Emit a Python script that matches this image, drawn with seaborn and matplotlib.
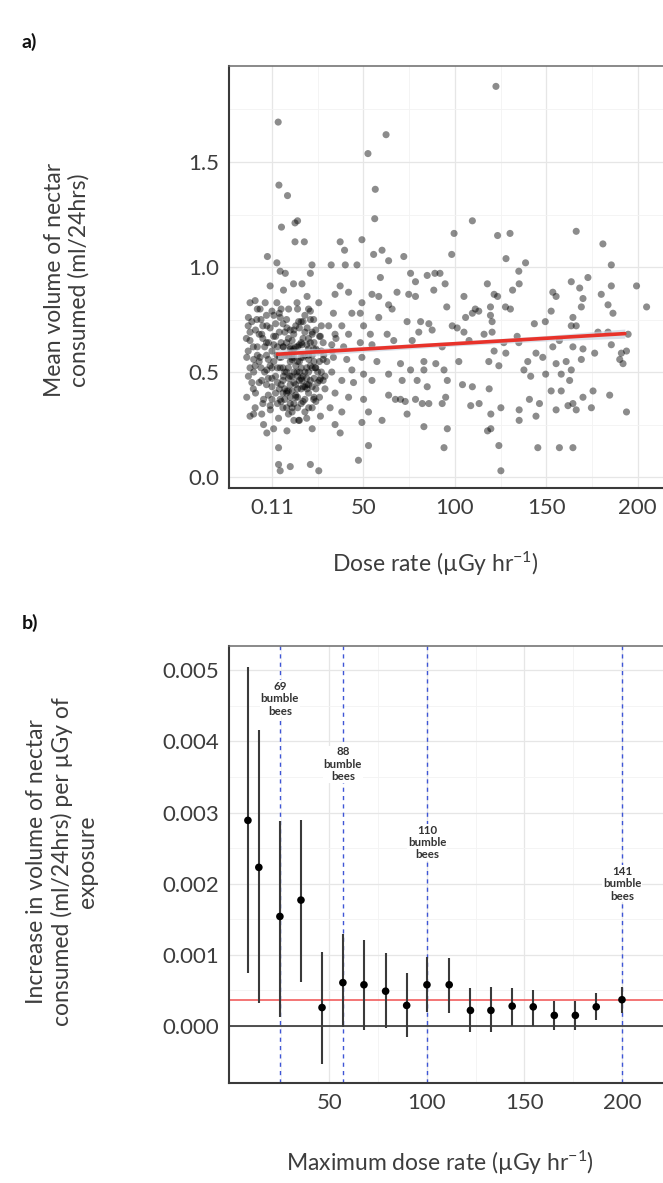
import matplotlib
matplotlib.use("Agg")
import matplotlib.pyplot as plt
import seaborn as sns
import pandas as pd

# ---------------- Panel a data (dose rate vs mean nectar volume) ----------------
# outer part of the low-dose cluster
clusterA_x = [-2.5, 2.7, 4.5, 7.3, 21.9, 21, 11.8, 16.4, -1, 6.3, 19.2, -9.2, -12, -3.7, 2.7, 13.7, 25.6,
              -6.5, 0, 9.1, 21, -12.9, -8.3, 4.5, 14.6, 22.8, -2.8, 8.2, 19.2, -12, -5.6, 0.9, 11.9, 26.5,
              -10.2, -1.9, 6.3, 16.4, 22.8, -13.8, -6.5, 2.7, 11, 20.1, 28.3, -9.2, -2.8, 4.5, 13.7, 23.7,
              -12.9, -5.6, 6.3, 16.4, 26.5, -10.2, 0, 8.2, 19.2, -13.8, -4.6, 4.5, 10, 22.8, -9.2, -0.9,
              11, 20.1, -12, -5.6, 3.6, 14.6, 26.5, -4.6, 0.9, 8.2, 22, -2.8, 3.6, 3.6, 4.5, 10, 21, 25.6]
clusterA_y = [1.05, 1.02, 0.98, 0.97, 1.01, 0.97, 0.92, 0.92, 0.91, 0.89, 0.86, 0.84, 0.83, 0.83, 0.83, 0.83, 0.83,
              0.80, 0.79, 0.80, 0.79, 0.76, 0.75, 0.76, 0.74, 0.75, 0.72, 0.71, 0.71, 0.69, 0.68, 0.67, 0.68, 0.67,
              0.62, 0.64, 0.62, 0.63, 0.61, 0.57, 0.57, 0.58, 0.57, 0.56, 0.58, 0.53, 0.51, 0.52, 0.50, 0.52,
              0.48, 0.46, 0.48, 0.46, 0.47, 0.42, 0.43, 0.41, 0.42, 0.38, 0.37, 0.37, 0.35, 0.37, 0.33, 0.32,
              0.31, 0.33, 0.29, 0.30, 0.28, 0.27, 0.29, 0.25, 0.23, 0.22, 0.23, 0.21, 0.14, 0.06, 0.03, 0.05, 0.06, 0.03]
# dense core of the low-dose cluster
core_x = [-8, -5, -3, -1, 1, 2, 3, 4, 5, 6, 7, 8, 9, 10, 11, 12, 13, 14, 15, 16, 17, 18, 19, 20, 21, 22, 23, 24, 25, 27,
          -12, -10, -7, -4, -2, 0, 1, 3, 5, 6, 7, 8, 9, 10, 11, 12, 13, 14, 15, 16, 17, 18, 19, 20, 21, 22, 23, 24, 26, 28,
          -11, -9, -6, -3, -1, 2, 4, 6, 7, 9, 10, 11, 12, 13, 14, 15, 16, 17, 18, 19, 20, 21, 22, 23, 25, 26, 27, 29,
          -13, -10, -8, -5, -2, 0, 3, 5, 8, 10, 12, 14, 16, 18, 20, 22, 24, 28]
core_y = [0.62, 0.66, 0.58, 0.71, 0.55, 0.48, 0.62, 0.69, 0.44, 0.52, 0.58, 0.64, 0.47, 0.55, 0.41, 0.61, 0.72, 0.38,
          0.50, 0.57, 0.66, 0.43, 0.52, 0.61, 0.46, 0.68, 0.55, 0.42, 0.60, 0.50,
          0.65, 0.56, 0.45, 0.50, 0.39, 0.60, 0.77, 0.35, 0.80, 0.33, 0.42, 0.75, 0.30, 0.70, 0.48, 0.35, 0.53, 0.80,
          0.27, 0.42, 0.74, 0.31, 0.63, 0.40, 0.75, 0.33, 0.47, 0.70, 0.38, 0.64,
          0.45, 0.70, 0.75, 0.44, 0.34, 0.67, 0.42, 0.62, 0.37, 0.58, 0.44, 0.65, 0.27, 0.44, 0.62, 0.71, 0.35, 0.48,
          0.58, 0.28, 0.80, 0.53, 0.43, 0.64, 0.45, 0.55, 0.72, 0.42,
          0.72, 0.50, 0.80, 0.35, 0.56, 0.47, 0.52, 0.57, 0.50, 0.38, 0.45, 0.48, 0.64, 0.69, 0.50, 0.58, 0.36, 0.56]
core2_x = [-14, -12, -11, -9, -8, -7, -6, -4, -3, -2, -1, 0, 1, 2, 3, 4, 5, 6, 7, 8,
           9, 10, 11, 12, 13, 14, 15, 16, 17, 18, 19, 20, 21, 22, 23, 24, 25, 26, 27, 28,
           -13, -10, -7, -5, -3, 0, 2, 4, 6, 8, 9, 10, 11, 12, 13, 14, 15, 16, 17, 18, 19, 20, 22, 24, 26,
           5, 7, 9, 11, 13, 15, 17, 6, 8, 10, 12, 14, 16, 18, 20, 30, 31, 35, 29, 33]
core2_y = [0.66, 0.52, 0.74, 0.40, 0.58, 0.68, 0.52, 0.62, 0.77, 0.47, 0.53, 0.37, 0.63, 0.73, 0.45, 0.57, 0.64,
           0.40, 0.69, 0.33, 0.52, 0.61, 0.56, 0.70, 0.38, 0.55, 0.63, 0.47, 0.36, 0.77, 0.44, 0.58, 0.64, 0.52,
           0.38, 0.61, 0.50, 0.67, 0.60, 0.46,
           0.60, 0.30, 0.55, 0.72, 0.64, 0.52, 0.40, 0.78, 0.46, 0.58, 0.66, 0.48, 0.33, 0.57, 0.62, 0.42, 0.46,
           0.74, 0.57, 0.37, 0.47, 0.66, 0.69, 0.52, 0.46,
           0.36, 0.50, 0.41, 0.60, 0.39, 0.55, 0.43, 0.73, 0.40, 0.62, 0.50, 0.33, 0.52, 0.50, 0.44, 0.55, 0.72,
           0.66, 0.48, 0.60]
# high outliers
high_x = [3.4, 3.8, 8.5, 5.2, 12.6, 14, 12.6, 17.7, 62.4, 122.5]
high_y = [1.69, 1.39, 1.34, 1.19, 1.21, 1.22, 1.12, 1.12, 1.63, 1.86]
# 30-90 uGy/hr
mid_x = [52.5, 56.5, 56.2, 37.3, 49.2, 39.7, 55.6, 60.2, 63.8, 72.1, 32.4, 40.1, 46.5, 59.3, 75.8, 78.5, 84.9, 89.1,
         88.5, 37.3, 41.9, 34.5, 49.2, 54.7, 58.4, 63.8, 65.7, 68.4, 74.8, 78.5, 33.6, 43.7, 48.3, 58.4, 73.9, 81.3,
         85.8, 38.2, 50.1, 34.5, 41.9, 53.8, 63, 66.6, 76.7, 80.3, 87.6, 32.7, 39.2, 48.3, 54.7, 33.6, 40.9, 49.2,
         57.4, 70.3, 83.1, 89.6, 32.7, 43.7, 50.1, 63.8, 75.8, 83.1, 38.2, 44.6, 54.7, 71.2, 79.4, 84.9, 34.5, 41.9,
         50.1, 63.8, 67.5, 70.3, 72.9, 78.5, 82.2, 85.8, 31.8, 38.2, 52.8, 60.2, 73.9, 34.5, 49.2, 83.1, 37.3, 52.8, 47.3]
mid_y = [1.54, 1.37, 1.23, 1.12, 1.13, 1.08, 1.06, 1.08, 1.03, 1.05, 1.01, 1.01, 1.01, 0.95, 0.97, 0.93, 0.96, 0.97,
         0.89, 0.91, 0.88, 0.87, 0.83, 0.87, 0.86, 0.82, 0.80, 0.88, 0.87, 0.86, 0.78, 0.78, 0.78, 0.76, 0.74, 0.74,
         0.73, 0.72, 0.72, 0.68, 0.68, 0.68, 0.68, 0.65, 0.65, 0.69, 0.70, 0.63, 0.62, 0.64, 0.63, 0.57, 0.56, 0.57,
         0.55, 0.54, 0.55, 0.54, 0.50, 0.51, 0.49, 0.49, 0.51, 0.51, 0.46, 0.45, 0.46, 0.46, 0.46, 0.43, 0.40, 0.38,
         0.37, 0.39, 0.37, 0.37, 0.36, 0.37, 0.35, 0.35, 0.33, 0.31, 0.31, 0.27, 0.30, 0.25, 0.26, 0.24, 0.21, 0.15, 0.08]
# 90-150 uGy/hr
upper_x = [109.6, 99.6, 123.4, 130.2, 98.3, 128, 138.7, 91.9, 94.7, 135, 105, 117.8, 121.5, 123.4, 131.6, 135.2,
           95.6, 111.2, 113.1, 119.5, 127.7, 130.4, 105.9, 109.6, 119.5, 120.4, 98.6, 101.3, 105, 116, 120.4, 143.5,
           149.5, 126.8, 134.1, 135, 107.8, 93.1, 121.5, 127.9, 139.9, 144.4, 148.1, 102.2, 118.6, 124.1, 137.8,
           141.5, 149.7, 94.1, 95.9, 104.2, 109.6, 118.8, 95, 93.1, 108.7, 113.3, 140.8, 146.3, 119.7, 125.2, 135.2,
           135.2, 144.4, 95.9, 117.9, 119.7, 94.1, 124.1, 145.4, 125.2]
upper_y = [1.22, 1.16, 1.15, 1.16, 1.06, 1.04, 1.02, 0.97, 0.92, 0.98, 0.86, 0.92, 0.87, 0.86, 0.89, 0.92,
           0.81, 0.80, 0.79, 0.81, 0.81, 0.80, 0.76, 0.78, 0.77, 0.74, 0.72, 0.71, 0.69, 0.68, 0.69, 0.73,
           0.74, 0.64, 0.67, 0.64, 0.65, 0.62, 0.60, 0.59, 0.55, 0.59, 0.57, 0.55, 0.55, 0.53, 0.51,
           0.48, 0.49, 0.51, 0.46, 0.44, 0.43, 0.42, 0.38, 0.35, 0.34, 0.35, 0.37, 0.35, 0.30, 0.33, 0.32,
           0.27, 0.29, 0.23, 0.22, 0.23, 0.14, 0.15, 0.14, 0.03]
# 150-210 uGy/hr
top_x = [166.4, 181, 185.6, 172.8, 163.7, 185.6, 199.4, 153.6, 155.4, 168.3, 180.1, 170.1, 183.8, 204.9, 169.2,
         152.7, 186.5, 164.6, 163.7, 166.4, 178.3, 183.8, 194.8, 157.2, 153.6, 164.6, 170.1, 176.5, 185.6, 191.1,
         193.9, 155.4, 160.9, 169.2, 190.2, 192, 158.2, 163.7, 162.8, 158.2, 175.6, 184.7, 170.1, 152.7, 161.9,
         155.4, 166.4, 174.7, 193.9, 164.6, 157.2, 164.6]
top_y = [1.17, 1.11, 1.01, 0.95, 0.93, 0.91, 0.91, 0.88, 0.86, 0.90, 0.87, 0.85, 0.82, 0.81, 0.81,
         0.79, 0.78, 0.76, 0.72, 0.72, 0.69, 0.69, 0.68, 0.65, 0.62, 0.62, 0.61, 0.59, 0.63, 0.59,
         0.60, 0.54, 0.55, 0.56, 0.56, 0.54, 0.49, 0.51, 0.46, 0.41, 0.41, 0.39, 0.38, 0.41, 0.34,
         0.32, 0.32, 0.33, 0.31, 0.35, 0.14, 0.14]

# linear fit and its confidence band
fit_dose = [3, 193]
fit_volume = [0.585, 0.683]
band_dose = [3, 50, 100, 150, 193]
band_lower = [0.563, 0.596, 0.624, 0.648, 0.661]
band_upper = [0.607, 0.622, 0.646, 0.674, 0.705]

a_xticks = [0.11, 50, 100, 150, 200]
a_xticklabels = ["0.11", "50", "100", "150", "200"]
a_yticks = [0.0, 0.5, 1.0, 1.5]

# ---------------- Panel b data ----------------
max_dose = [8.2, 13.8, 24.6, 35.4, 46.2, 56.9, 67.7, 78.8, 89.6, 100, 111.4, 122.3, 132.8, 143.7, 154.5,
            165.3, 176.1, 186.8, 200]
slope_est = [0.00289, 0.00223, 0.00154, 0.00177, 0.00026, 0.00061, 0.00058, 0.00049, 0.00029, 0.00058, 0.00058,
             0.00022, 0.00022, 0.00028, 0.00027, 0.00015, 0.00015, 0.00027, 0.00037]
ci_low = [0.00074, 0.00033, 0.00013, 0.00062, -0.00053, -0.00001, -0.00006, -0.00003, -0.00016, 0.00020, 0.00019,
          -0.00008, -0.00008, 0.0, 0.0, -0.00006, -0.00006, 0.00008, 0.00018]
ci_high = [0.00504, 0.00416, 0.00288, 0.00289, 0.00104, 0.00130, 0.00121, 0.00102, 0.00074, 0.00097, 0.00095,
           0.00054, 0.00055, 0.00054, 0.00050, 0.00035, 0.00035, 0.00046, 0.00055]
overall_slope = 0.000365
subset_dose = [24.6, 56.9, 100, 200]
subset_label = ["69\nbumble\nbees", "88\nbumble\nbees", "110\nbumble\nbees", "141\nbumble\nbees"]
subset_label_y = [0.0046, 0.00368, 0.00258, 0.0020]
b_xticks = [50, 100, 150, 200]
b_yticks = [0.0, 0.001, 0.002, 0.003, 0.004, 0.005]

# ---------------- styling ----------------
sns.set_theme(style="white")
plt.rcParams["font.family"] = ["Lato", "DejaVu Sans"]
plt.rcParams["mathtext.fontset"] = "custom"
plt.rcParams["mathtext.rm"] = "Lato"
plt.rcParams["mathtext.it"] = "Lato:italic"
plt.rcParams["mathtext.bf"] = "Lato:bold"
TXT = "#3d3d3d"
TICK_FS = 16
LAB_FS = 16.5

W, H = 663, 1183
fig = plt.figure(figsize=(W / 100, H / 100), dpi=100)
fig.patch.set_facecolor("white")


def style_axes(ax):
    ax.set_facecolor("white")
    for s in ["top", "right"]:
        ax.spines[s].set_color("#6a6a6a")
        ax.spines[s].set_linewidth(1.1)
    for s in ["left", "bottom"]:
        ax.spines[s].set_color("#3a3a3a")
        ax.spines[s].set_linewidth(1.5)
    ax.grid(which="major", color="#e6e6e6", linewidth=0.9)
    ax.grid(which="minor", color="#f3f3f3", linewidth=0.6)
    ax.set_axisbelow(True)
    ax.tick_params(which="both", length=0, labelsize=TICK_FS, labelcolor=TXT, pad=7)
    ax.set_xlabel("")
    ax.set_ylabel("")


# ---------------- panel a ----------------
ax1 = fig.add_axes([229 / W, 1 - 488 / H, (668 - 229) / W, (488 - 66) / H])
groups = [(clusterA_x, clusterA_y), (core_x, core_y), (core2_x, core2_y), (high_x, high_y),
          (mid_x, mid_y), (upper_x, upper_y), (top_x, top_y)]
df_a = pd.concat([pd.DataFrame({"dose": gx, "volume": gy}) for gx, gy in groups], ignore_index=True)
sns.scatterplot(data=df_a, x="dose", y="volume", ax=ax1, color="black", alpha=0.45,
                s=26, edgecolor="none", linewidth=0)
ax1.fill_between(band_dose, band_lower, band_upper, color="#c9d3e0", alpha=0.7, linewidth=0, zorder=3)
sns.lineplot(x=fit_dose, y=fit_volume, ax=ax1, color="#e8322a", linewidth=2.6, zorder=4)
ax1.set_xlim(-23.5, 216.6)
ax1.set_ylim(-0.052, 1.957)
ax1.set_xticks(a_xticks)
ax1.set_xticklabels(a_xticklabels)
ax1.set_xticks([25, 75, 125, 175], minor=True)
ax1.set_yticks(a_yticks)
ax1.set_yticklabels([f"{v:.1f}" for v in a_yticks])
ax1.set_yticks([0.25, 0.75, 1.25, 1.75], minor=True)
style_axes(ax1)

# ---------------- panel b ----------------
ax2 = fig.add_axes([229 / W, 1 - 1083 / H, (668 - 229) / W, (1083 - 646) / H])
for xv in subset_dose:
    ax2.axvline(xv, color="#3f56d6", linestyle=(0, (3, 3)), linewidth=1.0, zorder=2)
ax2.axhline(0.0, color="#333333", linewidth=1.2, zorder=2)
ax2.axhline(overall_slope, color="#f05050", linewidth=1.1, zorder=2)
ax2.vlines(max_dose, ci_low, ci_high, color="#3a3a3a", linewidth=1.5, zorder=4)
sns.scatterplot(x=max_dose, y=slope_est, ax=ax2, color="black", s=30, edgecolor="none", zorder=5)
for xv, lab, yv in zip(subset_dose, subset_label, subset_label_y):
    ax2.text(xv, yv, lab, ha="center", va="center", fontsize=8.3, fontweight="bold",
             color="#333333", linespacing=1.15, zorder=6,
             bbox=dict(facecolor="white", edgecolor="none", pad=0.5))
ax2.set_xlim(-1.5, 223.6)
ax2.set_ylim(-0.0008, 0.00534)
ax2.set_xticks(b_xticks)
ax2.set_xticks([25, 75, 125, 175], minor=True)
ax2.set_yticks(b_yticks)
ax2.set_yticklabels([f"{v:.3f}" for v in b_yticks])
ax2.set_yticks([0.0005, 0.0015, 0.0025, 0.0035, 0.0045], minor=True)
style_axes(ax2)

# ---------------- labels ----------------
fig.text(67 / W, 1 - 280 / H, "Mean volume of nectar\nconsumed (ml/24hrs)", rotation=90,
         ha="center", va="center", multialignment="center", fontsize=LAB_FS, color=TXT, linespacing=1.2)
fig.text(435 / W, 1 - 564 / H, r"Dose rate (µGy hr$^{\mathregular{-1}}$)", ha="center", va="center",
         fontsize=LAB_FS, color=TXT)
fig.text(62 / W, 1 - 862 / H, "Increase in volume of nectar\nconsumed (ml/24hrs) per µGy of\nexposure",
         rotation=90, ha="center", va="center", multialignment="center", fontsize=LAB_FS, color=TXT,
         linespacing=1.2)
fig.text(440 / W, 1 - 1163 / H, r"Maximum dose rate (µGy hr$^{\mathregular{-1}}$)", ha="center", va="center",
         fontsize=LAB_FS, color=TXT)
fig.text(22 / W, 1 - 42 / H, "a)", ha="left", va="center", fontsize=14, fontweight="bold", color="#111111")
fig.text(22 / W, 1 - 623 / H, "b)", ha="left", va="center", fontsize=14, fontweight="bold", color="#111111")

fig.savefig("out.png", dpi=100, facecolor="white")
